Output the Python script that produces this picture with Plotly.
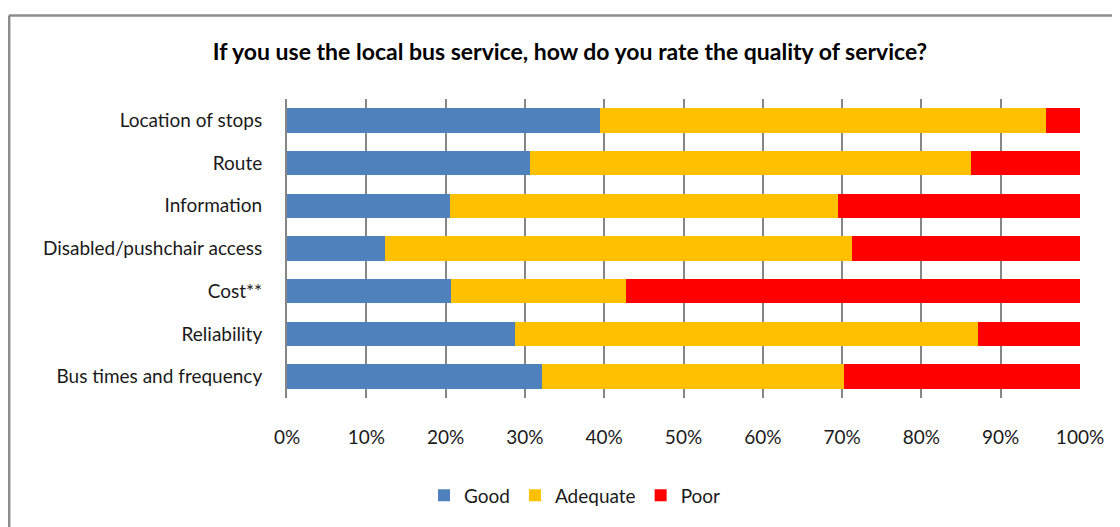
import plotly.graph_objects as go

categories = ["Location of stops", "Route", "Information", "Disabled/pushchair access",
              "Cost**", "Reliability", "Bus times and frequency"]
good = [39.5, 30.7, 20.6, 12.4, 20.7, 28.7, 32.2]
adequate = [56.2, 55.6, 48.9, 58.8, 22.1, 58.4, 38.0]
poor = [4.3, 13.7, 30.5, 28.8, 57.2, 12.9, 29.8]
tick_vals = [0, 10, 20, 30, 40, 50, 60, 70, 80, 90, 100]
tick_text = [f"{v}%" for v in tick_vals]

colors = {"Good": "#4F81BD", "Adequate": "#FFC000", "Poor": "#FF0000"}

fig = go.Figure()
for name, vals in [("Good", good), ("Adequate", adequate), ("Poor", poor)]:
    fig.add_trace(go.Bar(
        y=categories, x=vals, name=name, orientation="h",
        marker=dict(color=colors[name], line=dict(width=0)),
    ))

# page has an 8px body margin; compensate so the screenshot matches
OFF = 8
W, H = 1120 - OFF, 527 - OFF
L, R, T, B = 287 - OFF, 40, 99 - OFF, 127
pw, ph = W - L - R, H - T - B

def px_x(p):
    return (p - OFF - L) / pw

def px_y(p):
    return (H - B - (p - OFF)) / ph

fig.update_layout(
    width=W, height=H,
    barmode="stack", bargap=0.43,
    margin=dict(l=L, r=R, t=T, b=B),
    paper_bgcolor="white", plot_bgcolor="white",
    font=dict(family="Lato, Open Sans, sans-serif", size=19, color="#1a1a1a"),
    title=dict(
        text="<b>If you use the local bus service, how do you rate the quality of service?</b>",
        x=px_x(570), xanchor="center", xref="paper",
        y=1 - (52 - OFF) / H, yanchor="middle",
        font=dict(size=23, color="#000000"),
    ),
    xaxis=dict(
        range=[0, 100], tickvals=tick_vals, ticktext=tick_text,
        showgrid=True, gridcolor="#868686", gridwidth=2,
        zeroline=False, showline=False,
        ticks="", ticklabelstandoff=26,
        fixedrange=True,
    ),
    yaxis=dict(
        categoryorder="array", categoryarray=categories[::-1],
        showline=True, linecolor="#868686", linewidth=2,
        ticks="", ticklabelstandoff=19,
        fixedrange=True,
    ),
    legend=dict(
        orientation="h", x=px_x(575), xanchor="center", y=px_y(498), yanchor="middle",
        font=dict(size=19), traceorder="normal", itemwidth=30,
    ),
    showlegend=True,
    shapes=[
        dict(type="line", xref="paper", yref="paper",
             x0=px_x(9), x1=px_x(1130), y0=px_y(15), y1=px_y(15),
             line=dict(color="#8c8c8c", width=2.5)),
        dict(type="line", xref="paper", yref="paper",
             x0=px_x(9.2), x1=px_x(9.2), y0=px_y(15), y1=px_y(540),
             line=dict(color="#8c8c8c", width=2.5)),
    ],
)

fig.write_html("out.html")
